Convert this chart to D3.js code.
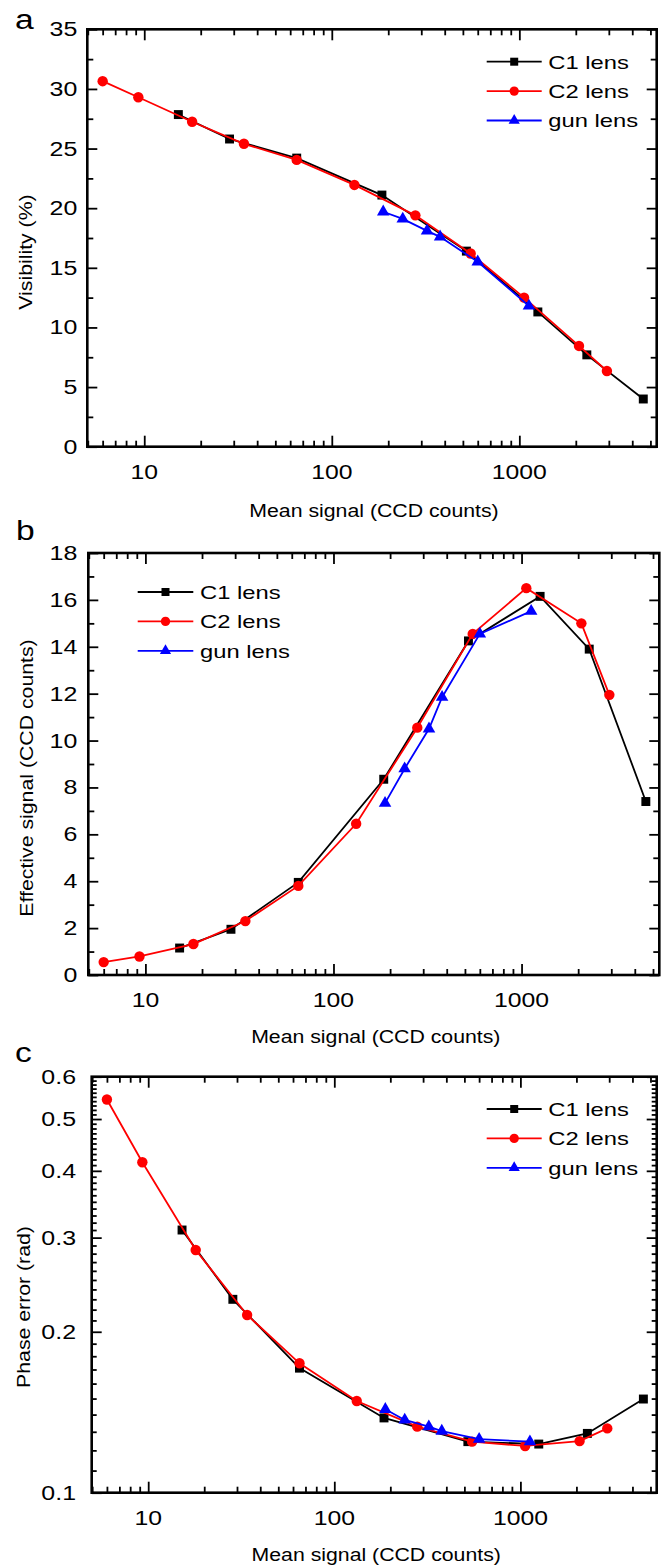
<!DOCTYPE html>
<html>
<head>
<meta charset="utf-8">
<script src="https://cdn.jsdelivr.net/npm/d3@7"></script>
<style>
  body { margin: 0; background: #fff; }
  text { font-family: "Liberation Sans", Arial, sans-serif; fill: #000; }
</style>
</head>
<body>
<svg id="fig" width="668" height="1566"></svg>
<script>
// mean signal (CCD counts) for each lens series
const c1Signal = [15.2, 28.5, 65, 185, 522, 1255, 2290, 4580];
const c2Signal = [6, 9.3, 18, 34, 65, 132, 279, 550, 1060, 2080, 2930];
const gunSignal = [188, 239, 322, 378, 600, 1125];

// panel a: visibility (%)
const c1Visibility = [27.85, 25.8, 24.2, 21.1, 16.4, 11.3, 7.7, 4.0];
const c2Visibility = [30.65, 29.3, 27.25, 25.4, 24.05, 21.95, 19.4, 16.2, 12.5, 8.45, 6.35];
const gunVisibility = [19.7, 19.1, 18.1, 17.6, 15.5, 11.8];

// panel b: effective signal (CCD counts)
const c1Effective = [1.15, 1.95, 3.95, 8.35, 14.25, 16.15, 13.9, 7.4];
const c2Effective = [0.55, 0.79, 1.32, 2.3, 3.8, 6.45, 10.55, 14.55, 16.5, 15.0, 11.95];
const gunEffective = [7.33, 8.8, 10.5, 11.85, 14.55, 15.52];

// panel c: phase error (rad)
const c1Phase = [0.310, 0.230, 0.171, 0.138, 0.1246, 0.1233, 0.1291, 0.1497];
const c2Phase = [0.544, 0.415, 0.2844, 0.215, 0.1746, 0.1484, 0.1329, 0.1246, 0.1223, 0.1249, 0.1319];
const gunPhase = [0.1432, 0.1368, 0.1329, 0.1304, 0.1259, 0.1246];

// ticks and labels
const xTicks = [10, 100, 1000];
const visTicks = [0, 5, 10, 15, 20, 25, 30, 35];
const effTicks = [0, 2, 4, 6, 8, 10, 12, 14, 16, 18];
const phaseTicks = [0.1, 0.2, 0.3, 0.4, 0.5, 0.6];
const seriesNames = ["C1 lens", "C2 lens", "gun lens"];

const xDomain = [4.97, 5400];
const svg = d3.select("#fig");

const series = [
  { name: seriesNames[0], color: "#000000", shape: d3.symbolSquare, size: 80 },
  { name: seriesNames[1], color: "#ff0000", shape: d3.symbolCircle, size: 85 },
  { name: seriesNames[2], color: "#0000ff", shape: d3.symbolTriangle, size: 68 }
];

// glyphs in the figure are drawn wider than normal, so stretch text horizontally
function label(g, x, y, str, size, sx, anchor, rotate) {
  return g.append("text")
    .attr("transform", "translate(" + x + "," + y + ")" + (rotate ? " rotate(-90)" : "") + " scale(" + sx + ",1)")
    .attr("font-size", size)
    .attr("text-anchor", anchor || "start")
    .text(str);
}

// minor ticks for the log x axis: 2..9 in every decade
const xMinor = [];
[1, 10, 100, 1000].forEach(d => {
  for (let m = 2; m <= 9; m++) {
    const v = d * m;
    if (v > xDomain[0] && v < xDomain[1]) xMinor.push(v);
  }
});

const panels = [
  {
    letter: "a", left: 87.3, right: 656.7, top: 29.3, bottom: 446.7,
    log: false, yDomain: [0, 35], ticks: visTicks, minor: d3.range(2.5, 35, 5),
    fmt: d => d, title: "Visibility (%)", titleX: 32, titleY: 252, labelRight: 77.3,
    ys: [c1Visibility, c2Visibility, gunVisibility],
    legend: { x0: 486.7, x1: 541.7, tx: 548.3, y0: 61.7 },
    letterPos: [15, 29], titleDy: 70
  },
  {
    letter: "b", left: 88.3, right: 659.3, top: 553, bottom: 975,
    log: false, yDomain: [0, 18], ticks: effTicks, minor: d3.range(1, 18, 2),
    fmt: d => d, title: "Effective signal (CCD counts)", titleX: 33, titleY: 778, labelRight: 77.3,
    ys: [c1Effective, c2Effective, gunEffective],
    legend: { x0: 137.7, x1: 193.3, tx: 200, y0: 592 },
    letterPos: [16, 540], titleDy: 68
  },
  {
    letter: "c", left: 91.7, right: 656.7, top: 1076.7, bottom: 1492.7,
    log: true, yDomain: [0.1, 0.6], ticks: phaseTicks,
    minor: d3.range(11, 60).map(v => v / 100).filter(v => Math.abs(v * 10 - Math.round(v * 10)) > 1e-6),
    fmt: d => d3.format(".1f")(d), title: "Phase error  (rad)", titleX: 30, titleY: 1307, labelRight: 76,
    ys: [c1Phase, c2Phase, gunPhase],
    legend: { x0: 486.7, x1: 541.7, tx: 548.3, y0: 1109 },
    letterPos: [15, 1062], titleDy: 68
  }
];

const xs = [c1Signal, c2Signal, gunSignal];

panels.forEach(p => {
  const g = svg.append("g");
  const x = d3.scaleLog().domain(xDomain).range([p.left, p.right]);
  const y = (p.log ? d3.scaleLog() : d3.scaleLinear()).domain(p.yDomain).range([p.bottom, p.top]);

  const tidy = a => { a.select(".domain").remove(); a.selectAll("line").attr("stroke-width", 1.8); };

  // ticks on all four sides, pointing in
  g.append("g").attr("transform", "translate(0," + p.bottom + ")")
    .call(d3.axisBottom(x).tickValues(xTicks).tickSize(-11).tickFormat("")).call(tidy);
  g.append("g").attr("transform", "translate(0," + p.bottom + ")")
    .call(d3.axisBottom(x).tickValues(xMinor).tickSize(-6).tickFormat("")).call(tidy);
  g.append("g").attr("transform", "translate(0," + p.top + ")")
    .call(d3.axisTop(x).tickValues(xTicks).tickSize(-11).tickFormat("")).call(tidy);
  g.append("g").attr("transform", "translate(0," + p.top + ")")
    .call(d3.axisTop(x).tickValues(xMinor).tickSize(-6).tickFormat("")).call(tidy);
  g.append("g").attr("transform", "translate(" + p.left + ",0)")
    .call(d3.axisLeft(y).tickValues(p.ticks).tickSize(-10).tickFormat("")).call(tidy);
  g.append("g").attr("transform", "translate(" + p.left + ",0)")
    .call(d3.axisLeft(y).tickValues(p.minor).tickSize(p.log ? -5 : -6).tickFormat("")).call(tidy);
  g.append("g").attr("transform", "translate(" + p.right + ",0)")
    .call(d3.axisRight(y).tickValues(p.ticks).tickSize(-10).tickFormat("")).call(tidy);
  g.append("g").attr("transform", "translate(" + p.right + ",0)")
    .call(d3.axisRight(y).tickValues(p.minor).tickSize(p.log ? -5 : -6).tickFormat("")).call(tidy);

  // frame
  g.append("rect")
    .attr("x", p.left).attr("y", p.top)
    .attr("width", p.right - p.left).attr("height", p.bottom - p.top)
    .attr("fill", "none").attr("stroke", "#000").attr("stroke-width", 2.6);

  // tick labels
  xTicks.forEach(t => label(g, x(t), p.bottom + 32, t, 19.5, 1.27, "middle"));
  p.ticks.forEach(t => label(g, p.labelRight, y(t) + 7, p.fmt(t), 19.5, 1.28, "end"));

  // axis titles
  label(g, (p.left + p.right) / 2 + 2, p.bottom + p.titleDy, "Mean signal (CCD counts)", 18.5, 1.15, "middle");
  label(g, p.titleX, p.titleY, p.title, 18.5, 1.15, "middle", true);
  label(g, p.letterPos[0], p.letterPos[1], p.letter, 28, 1.2, "start");

  // data series
  const line = d3.line().x(d => x(d[0])).y(d => y(d[1]));
  series.forEach((s, i) => {
    const pts = xs[i].map((v, k) => [v, p.ys[i][k]]);
    g.append("path").datum(pts)
      .attr("d", line).attr("fill", "none")
      .attr("stroke", s.color).attr("stroke-width", 1.8);
    g.selectAll(null).data(pts).enter().append("path")
      .attr("d", d3.symbol().type(s.shape).size(s.size))
      .attr("transform", d => "translate(" + x(d[0]) + "," + y(d[1]) + ")")
      .attr("fill", s.color);
  });

  // legend
  series.forEach((s, i) => {
    const ly = p.legend.y0 + i * 29.4;
    g.append("line")
      .attr("x1", p.legend.x0).attr("x2", p.legend.x1)
      .attr("y1", ly).attr("y2", ly)
      .attr("stroke", s.color).attr("stroke-width", 1.8);
    g.append("path")
      .attr("d", d3.symbol().type(s.shape).size(s.size * 0.8))
      .attr("transform", "translate(" + (p.legend.x0 + p.legend.x1) / 2 + "," + ly + ")")
      .attr("fill", s.color);
    label(g, p.legend.tx, ly + 6.8, s.name, 19, 1.25, "start");
  });
});
</script>
</body>
</html>
